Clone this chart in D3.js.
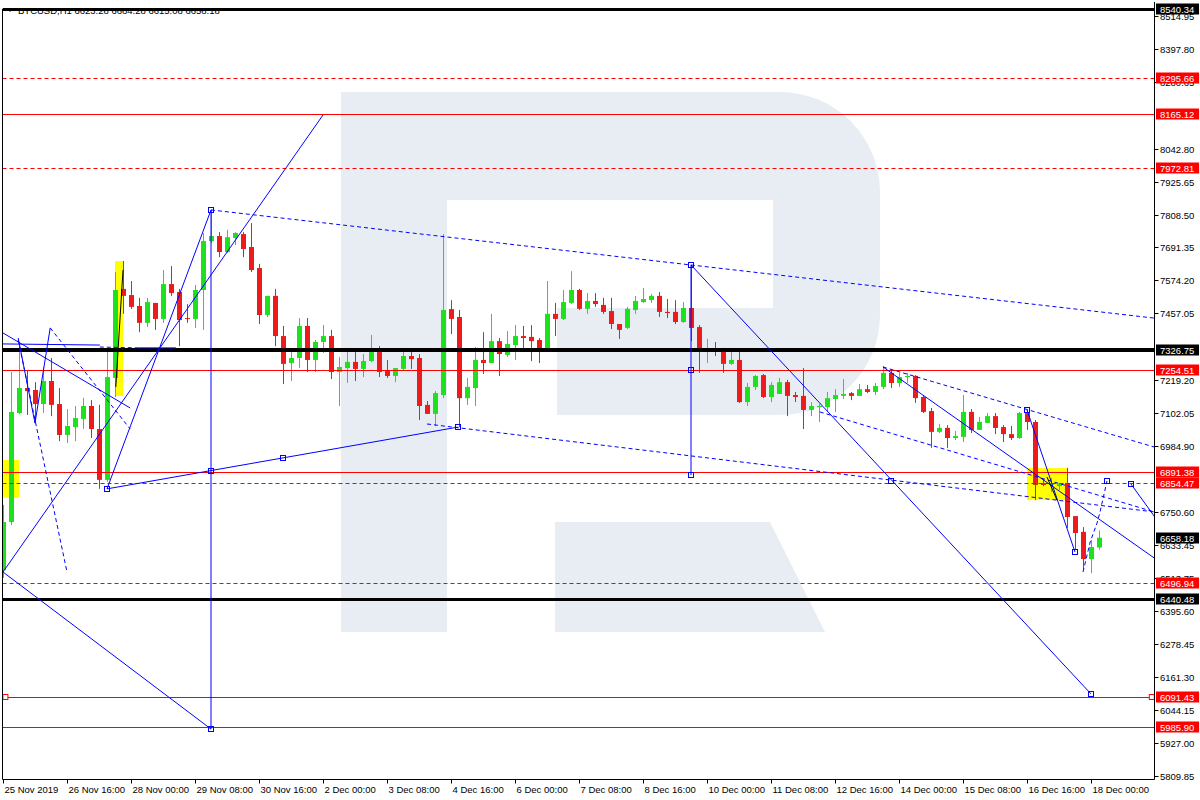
<!DOCTYPE html>
<html><head><meta charset="utf-8">
<script src="https://cdn.jsdelivr.net/npm/d3@7"></script>
<style>
body{margin:0;background:#fff}
svg{display:block}
text{font-family:"Liberation Sans",Arial,sans-serif}
</style>
</head><body>
<svg id="chart" width="1200" height="800"></svg>
<script>
// ---------- DATA ----------
const headerText = "BTCUSD,H1  6623.28 6684.28 6615.08 6658.18";
const firstBar = "2019-11-25T08:00:00Z";
const barHours = 4;

const opens = [6543,6714,7102,7191,7184,7134,7216,7134,7024,7052,7081,7127,7045,6864,7227,7544,7522,7483,7423,7494,
7437,7561,7533,7440,7437,7540,7714,7732,7675,7725,7739,7693,7618,7451,7519,7376,7280,7298,7412,7291,
7355,7376,7248,7262,7284,7259,7287,7319,7252,7234,7259,7305,7298,7131,7099,7166,7472,7444,7155,7191,
7291,7280,7358,7309,7344,7376,7373,7362,7330,7455,7437,7494,7540,7473,7501,7487,7465,7419,7405,7469,
7497,7504,7519,7462,7462,7426,7476,7408,7326,7333,7323,7277,7291,7141,7195,7237,7159,7170,7212,7166,
7163,7113,7123,7123,7152,7163,7173,7163,7187,7177,7195,7245,7209,7230,7234,7159,7109,7035,7049,7013,
7017,7106,7042,7067,7091,7052,7027,7013,7102,7070,6853,6846,6842,6853,6735,6679,6582,6623.28];
const highs = [6775,7248,7351,7252,7212,7266,7298,7191,7116,7127,7156,7148,7131,7319,7604,7643,7572,7512,7512,7494,
7611,7625,7544,7490,7558,7743,7825,7746,7754,7746,7746,7778,7633,7519,7544,7412,7319,7440,7440,7362,
7415,7398,7302,7334,7319,7312,7380,7340,7291,7262,7334,7323,7312,7145,7180,7739,7504,7469,7227,7337,
7390,7455,7369,7394,7415,7412,7415,7369,7572,7494,7540,7607,7544,7529,7529,7512,7512,7419,7480,7519,
7547,7526,7533,7508,7504,7497,7629,7415,7366,7355,7334,7334,7319,7209,7237,7241,7212,7227,7220,7177,
7262,7141,7134,7177,7187,7223,7177,7205,7202,7209,7269,7255,7245,7245,7237,7166,7120,7063,7059,7038,
7166,7116,7088,7102,7102,7059,7056,7106,7113,7077,6867,6871,6853,6907,6735,6696,6650,6684.28];
const lows = [6515,6703,7099,7095,7067,7102,7091,7002,6995,7002,7045,7013,6832,6857,7159,7455,7473,7390,7408,7398,
7423,7519,7340,7423,7405,7398,7707,7657,7672,7700,7657,7604,7419,7444,7340,7205,7216,7262,7248,7248,
7316,7223,7127,7209,7216,7230,7284,7230,7227,7212,7255,7259,7077,7099,7056,7155,7383,7052,7131,7127,
7241,7280,7234,7302,7291,7330,7287,7280,7326,7376,7433,7490,7469,7455,7480,7455,7401,7366,7401,7455,
7494,7494,7444,7440,7419,7423,7358,7245,7280,7305,7245,7273,7138,7127,7184,7155,7141,7170,7091,7141,
7045,7091,7070,7106,7106,7152,7148,7163,7173,7166,7187,7191,7195,7209,7138,7102,6978,7031,6978,7006,
6999,7031,7042,7067,7027,6999,7006,7010,7042,6792,6842,6821,6828,6693,6614,6547,6532,6615.08];
const closes = [6714,7106,7191,7180,7134,7216,7131,7024,7056,7084,7127,7045,6864,7230,7540,7519,7480,7423,7497,7437,
7561,7529,7433,7437,7540,7714,7732,7675,7728,7743,7686,7611,7451,7519,7376,7277,7298,7412,7291,7355,
7376,7248,7266,7284,7259,7287,7319,7248,7234,7262,7305,7294,7127,7099,7173,7469,7437,7155,7195,7291,
7280,7358,7312,7348,7376,7369,7358,7330,7455,7437,7497,7540,7473,7501,7490,7462,7419,7398,7473,7501,
7508,7519,7462,7458,7426,7476,7405,7330,7333,7330,7277,7291,7141,7195,7234,7159,7202,7212,7163,7159,
7113,7127,7127,7155,7166,7170,7163,7187,7177,7198,7245,7209,7230,7234,7155,7106,7035,7049,7013,7020,
7106,7042,7070,7091,7049,7027,7013,7102,7070,6846,6846,6853,6849,6732,6675,6582,6625,6658.18];

// price-axis tick labels that remain readable (others are covered by level labels)
const priceTickLabels = ["8514.95","8397.80","8280.65","8042.80","7925.65","7808.50","7691.35","7574.20","7457.05","7219.20","7102.05","6984.90","6750.60","6633.45","6513.75","6395.60","6278.45","6161.30","6044.15","5927.00","5809.85"];
const timeTickValues = ["2019-11-25T08:00:00Z","2019-11-26T16:00:00Z","2019-11-28T00:00:00Z","2019-11-29T08:00:00Z","2019-11-30T16:00:00Z","2019-12-02T00:00:00Z","2019-12-03T08:00:00Z","2019-12-04T16:00:00Z","2019-12-06T00:00:00Z","2019-12-07T08:00:00Z","2019-12-08T16:00:00Z","2019-12-10T00:00:00Z","2019-12-11T08:00:00Z","2019-12-12T16:00:00Z","2019-12-14T00:00:00Z","2019-12-15T08:00:00Z","2019-12-16T16:00:00Z","2019-12-18T00:00:00Z"];
const timeTickLabels = ["25 Nov 2019","26 Nov 16:00","28 Nov 00:00","29 Nov 08:00","30 Nov 16:00","2 Dec 00:00","3 Dec 08:00","4 Dec 16:00","6 Dec 00:00","7 Dec 08:00","8 Dec 16:00","10 Dec 00:00","11 Dec 08:00","12 Dec 16:00","14 Dec 00:00","15 Dec 08:00","16 Dec 16:00","18 Dec 00:00"];

// horizontal levels
const levelPrices = [8540.34, 8295.66, 8165.12, 7972.81, 7326.75, 7254.51, 6891.38, 6854.47, 6496.94, 6440.48, 6091.43, 5985.90];
const levelKinds  = ["key","pending","target","pending","key","target","target","pending","pending","key","target","target"];
const lastPrice = 6658.18;

// trend lines: [barIndex1, price1, barIndex2, price2]
const solidTrendLines = [
  [0,7387, 15.9,7120],
  [0,7348, 12.1,7344],
  [16.9,7334, 21.6,7334],
  [0,6536, 40,8163],
  [13,6832, 26,7825],
  [0,6536, 26,5977],
  [26,7825, 26,5977],
  [13,6832, 56.9,7052],
  [86,7629, 136,6102],
  [86,7629, 86,6881],
  [110,7266, 143.9,6586],
  [128,7113, 134,6607],
  [141,6849, 143.9,6735],
  [1.9,7369, 4,7066],
  [4,7066, 5.9,7405]
];
const dashedTrendLines = [
  [12.1,7337, 16.9,7334],
  [26,7825, 143.9,7440],
  [53,7063, 143.9,6750],
  [110,7266, 143.9,6981],
  [102.1,7106, 143.9,6750],
  [1.9,7362, 8,6536],
  [5.9,7405, 15.9,7045]
];
const dashedPaths = [
  [[135,6536],[135.9,6643],[136.75,6710],[137.1,6746],[138,6860]]
];
const anchorPoints = [[13,6832],[26,6896],[35,6942],[56.9,7052],[26,7825],[26,5977],[86,7629],[86,7255],[86,6881],[111,6860],[136,6102],[128,7113],[134,6607],[138,6860],[141,6849]];
const highlightBoxes = [[0,6935, 2,6800],[14,7643, 15,7163],[128,6906, 133,6792]];
const blackMarks = [[15,7611, 14.1,7195],[130.5,6874, 131.75,6792]];

// ---------- CHART ----------
const W = 1200, H = 800;
const plotL = 2.5, plotR = 1154.5, plotT = 9, plotB = 779.5;
const svg = d3.select("#chart");
svg.append("rect").attr("width", W).attr("height", H).attr("fill", "#fff");

const t0 = new Date(firstBar);
const barTimes = opens.map((_, i) => new Date(t0.getTime() + i * barHours * 3600e3));
const hourPx = 2;
const x = d3.scaleUtc()
  .domain([t0, new Date(t0.getTime() + (plotR - 3) / hourPx * 3600e3)])
  .range([3, plotR]);
const xb = b => x(new Date(t0.getTime() + b * barHours * 3600e3));
const y = d3.scaleLinear().domain([5809.85, 8540.34]).range([776, 9]);

svg.append("defs").append("clipPath").attr("id", "pc")
  .append("rect").attr("x", plotL).attr("y", 2).attr("width", plotR - plotL).attr("height", plotB - 2);

const plot = svg.append("g").attr("clip-path", "url(#pc)");

// watermark
plot.append("path")
  .attr("d", "M341,92 H780 A100,100 0 0 1 880,192 V315 A100,100 0 0 1 780,415 H557 V308 H773 V200 H447 V632 H341 Z M555,522 H770 L825,632 H555 Z")
  .attr("fill", "#e8edf4");

// highlight boxes
plot.selectAll("rect.hl").data(highlightBoxes).join("rect")
  .attr("x", d => xb(d[0])).attr("y", d => y(d[1]))
  .attr("width", d => xb(d[2]) - xb(d[0])).attr("height", d => y(d[3]) - y(d[1]))
  .attr("fill", "#ffff00");

// candles
const bodyW = 5;
const candles = plot.append("g");
barTimes.forEach((t, i) => {
  const cx = Math.round(x(t));
  const up = closes[i] >= opens[i];
  const col = up ? "#1ee11e" : "#ec1c1c";
  candles.append("line")
    .attr("x1", cx + 0.5).attr("x2", cx + 0.5)
    .attr("y1", y(highs[i])).attr("y2", y(lows[i]))
    .attr("stroke", col).attr("stroke-width", 1);
  const yt = y(Math.max(opens[i], closes[i])), yb = y(Math.min(opens[i], closes[i]));
  candles.append("rect")
    .attr("x", cx - 2).attr("y", yt)
    .attr("width", bodyW).attr("height", Math.max(1, yb - yt))
    .attr("fill", col);
});

// levels
const levelStyle = {
  key: {stroke: "#000", width: 3, dash: null},
  target: {stroke: "#ff0000", width: 1, dash: null},
  pending: {stroke: "#ff0000", width: 1, dash: "4,3"}
};
levelPrices.forEach((p, i) => {
  const st = levelStyle[levelKinds[i]];
  const w = (levelKinds[i] === "key" && i === 4) ? 4 : st.width;
  const yy = Math.round(y(p)) + (w % 2 ? 0.5 : 0);
  plot.append("line").attr("x1", plotL).attr("x2", plotR).attr("y1", yy).attr("y2", yy)
    .attr("stroke", st.stroke).attr("stroke-width", w)
    .attr("stroke-dasharray", st.dash);
});
// anchors on 6091.43 level
[[0.3, 6091.43],[143.6, 6091.43]].forEach(d => {
  plot.append("rect").attr("x", xb(d[0]) - 2.5).attr("y", Math.round(y(d[1])) - 2.5)
    .attr("width", 5).attr("height", 5).attr("fill", "#fff").attr("stroke", "#ff0000");
});

// trend lines
const blue = "#0000ff";
plot.selectAll("line.tl").data(solidTrendLines).join("line")
  .attr("x1", d => xb(d[0])).attr("y1", d => y(d[1]))
  .attr("x2", d => xb(d[2])).attr("y2", d => y(d[3]))
  .attr("stroke", blue).attr("stroke-width", 1);
plot.selectAll("line.td").data(dashedTrendLines).join("line")
  .attr("x1", d => xb(d[0])).attr("y1", d => y(d[1]))
  .attr("x2", d => xb(d[2])).attr("y2", d => y(d[3]))
  .attr("stroke", blue).attr("stroke-width", 1).attr("stroke-dasharray", "4,3");
const ln = d3.line().x(d => xb(d[0])).y(d => y(d[1]));
dashedPaths.forEach(pts => plot.append("path").attr("d", ln(pts)).attr("fill", "none")
  .attr("stroke", blue).attr("stroke-dasharray", "4,3"));
plot.selectAll("line.bm").data(blackMarks).join("line")
  .attr("x1", d => xb(d[0])).attr("y1", d => y(d[1]))
  .attr("x2", d => xb(d[2])).attr("y2", d => y(d[3]))
  .attr("stroke", "#000").attr("stroke-width", 1);
plot.selectAll("rect.ap").data(anchorPoints).join("rect")
  .attr("x", d => Math.round(xb(d[0])) - 2.5).attr("y", d => Math.round(y(d[1])) - 2.5)
  .attr("width", 5).attr("height", 5).attr("fill", "none").attr("stroke", blue);

// frame
svg.append("line").attr("x1", plotL).attr("x2", plotL).attr("y1", plotT).attr("y2", plotB).attr("stroke", "#000");
svg.append("line").attr("x1", plotR).attr("x2", plotR).attr("y1", 2).attr("y2", plotB).attr("stroke", "#000");
svg.append("line").attr("x1", plotL).attr("x2", plotR).attr("y1", plotB).attr("y2", plotB).attr("stroke", "#000");

// price axis
const ax = svg.append("g");
priceTickLabels.forEach(s => {
  const yy = Math.round(y(+s)) + 0.5;
  ax.append("line").attr("x1", plotR).attr("x2", plotR + 4).attr("y1", yy).attr("y2", yy).attr("stroke", "#000");
  ax.append("text").attr("x", 1160).attr("y", yy + 3.5).attr("font-size", 9.5).attr("fill", "#000").text(s);
});
// price boxes
function priceBox(p, bg) {
  const yy = y(p);
  ax.append("rect").attr("x", 1156).attr("y", Math.round(yy) - 5.5).attr("width", 43).attr("height", 11).attr("fill", bg);
  ax.append("text").attr("x", 1160).attr("y", Math.round(yy) + 3.5).attr("font-size", 9.5).attr("fill", "#fff").text(p.toFixed(2));
}
levelPrices.forEach((p, i) => priceBox(p, levelKinds[i] === "key" ? "#000" : "#ff0000"));
priceBox(lastPrice, "#000");

// time axis
timeTickValues.forEach((s, i) => {
  const xx = Math.round(x(new Date(s))) + 0.5;
  svg.append("line").attr("x1", xx).attr("x2", xx).attr("y1", plotB).attr("y2", plotB + 4).attr("stroke", "#000");
  svg.append("text").attr("x", xx + 1).attr("y", 793).attr("font-size", 9.5).attr("fill", "#000").text(timeTickLabels[i]);
});

// header
svg.append("path").attr("d", "M8,9 L12,9 L10,12 Z").attr("fill", "#000");
svg.append("text").attr("x", 18).attr("y", 14).attr("font-size", 9.5).attr("fill", "#000").text(headerText);
</script>
</body></html>
